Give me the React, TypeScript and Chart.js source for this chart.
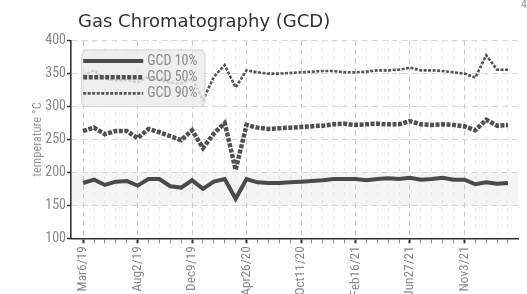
import React, { useEffect, useRef } from 'react';
import { Chart, registerables } from 'chart.js';

Chart.register(...registerables);

// ---- data ----
const tickLabels = ['Mar6/19', 'Aug2/19', 'Dec9/19', 'Apr26/20', 'Oct11/20', 'Feb16/21', 'Jun27/21', 'Nov3/21'];
const labelEvery = 5;
const seriesNames = ['GCD 10%', 'GCD 50%', 'GCD 90%'];
const gcd10 = [184, 189, 181, 186, 187, 180, 190, 190, 179, 177, 188, 175, 186, 190, 160, 190, 185, 184, 184, 185, 186, 187, 188, 190, 190, 190, 188, 190, 191, 190, 192, 189, 190, 192, 189, 189, 182, 185, 183, 184];
const gcd50 = [263, 268, 258, 263, 263, 252, 266, 261, 255, 249, 264, 237, 259, 275, 204, 272, 268, 266, 267, 268, 269, 270, 271, 273, 274, 272, 273, 274, 273, 273, 278, 273, 272, 273, 272, 270, 264, 280, 271, 272];
const gcd90 = [347, 355, 342, 340, 340, 337, 345, 340, 336, 335, 342, 310, 345, 363, 329, 355, 352, 350, 350, 351, 352, 353, 354, 354, 352, 352, 353, 355, 355, 356, 359, 355, 355, 354, 352, 350, 344, 378, 356, 356];
const yMin = 100;
const yMax = 400;
const yStep = 50;
const bandRange = [150, 200];
const titleText = 'Gas Chromatography (GCD)';
const yTitle = 'temperature °C';

const NARROW = "'Roboto Condensed', 'DejaVu Sans Condensed', sans-serif";

const toPoints = (arr: number[]) => arr.map((v, i) => ({ x: i, y: v }));

const decorPlugin = {
  id: 'decor',
  beforeDraw(chart: any) {
    const { ctx, chartArea, scales } = chart;
    const y = scales.y;
    const t = y.getPixelForValue(bandRange[1]);
    const b = y.getPixelForValue(bandRange[0]);
    ctx.save();
    ctx.fillStyle = '#f4f4f4';
    ctx.fillRect(chartArea.left, t, chartArea.right - chartArea.left, b - t);
    ctx.restore();
  },
  afterDatasetsDraw(chart: any) {
    const { ctx, chartArea } = chart;
    const bx = chartArea.left + 10.7;
    const by = chartArea.top + 9.3;
    const bw = 123.3;
    const bh = 56.7;
    ctx.save();
    ctx.beginPath();
    if (ctx.roundRect) ctx.roundRect(bx, by, bw, bh, 5);
    else ctx.rect(bx, by, bw, bh);
    ctx.fillStyle = 'rgba(236,236,236,0.82)';
    ctx.fill();
    ctx.strokeStyle = '#d2d2d2';
    ctx.lineWidth = 1;
    ctx.stroke();
    chart.data.datasets.forEach((ds: any, i: number) => {
      const yy = by + 11 + i * 16.2;
      ctx.save();
      ctx.strokeStyle = ds.borderColor;
      ctx.lineWidth = ds.borderWidth;
      ctx.setLineDash(ds.borderDash || []);
      ctx.beginPath();
      ctx.moveTo(bx + 1.5, yy);
      ctx.lineTo(bx + 61.5, yy);
      ctx.stroke();
      ctx.restore();
      ctx.fillStyle = '#8a8a8a';
      ctx.font = `14px ${NARROW}`;
      ctx.textBaseline = 'middle';
      ctx.textAlign = 'left';
      ctx.fillText(ds.label, bx + 65.6, yy + 0.5);
    });
    ctx.restore();
  },
  afterDraw(chart: any) {
    const { ctx, chartArea } = chart;
    ctx.save();
    ctx.fillStyle = '#333';
    ctx.font = "18px 'DejaVu Sans', Verdana, sans-serif";
    ctx.textBaseline = 'alphabetic';
    ctx.textAlign = 'left';
    ctx.fillText(titleText, chartArea.left + 7, 27);
    ctx.fillStyle = '#999';
    ctx.font = `12px ${NARROW}`;
    ctx.fillText('4', 521, 8);
    ctx.restore();
  },
};

export default function App() {
  const ref = useRef<HTMLCanvasElement | null>(null);

  useEffect(() => {
    if (!ref.current) return;
    const n = gcd10.length;
    const isMajor = (v: number) => Math.round(v) % labelEvery === 0;
    const chart = new Chart(ref.current, {
      type: 'line',
      data: {
        datasets: [
          {
            label: seriesNames[0],
            data: toPoints(gcd10),
            borderColor: '#4a4a4a',
            borderWidth: 4,
            pointRadius: 0,
            tension: 0,
          },
          {
            label: seriesNames[1],
            data: toPoints(gcd50),
            borderColor: '#505050',
            borderWidth: 4.5,
            borderDash: [4, 1.5],
            pointRadius: 0,
            tension: 0,
          },
          {
            label: seriesNames[2],
            data: toPoints(gcd90),
            borderColor: '#555555',
            borderWidth: 2.6,
            borderDash: [3, 1.5],
            pointRadius: 0,
            tension: 0,
          },
        ] as any,
      },
      options: {
        animation: false,
        responsive: false,
        layout: { padding: { left: 30, top: 40.7, right: 2, bottom: 0 } },
        plugins: {
          legend: { display: false },
          title: { display: false },
          tooltip: { enabled: false },
        },
        scales: {
          x: {
            type: 'linear',
            min: -1.112,
            max: n - 1 + 0.93,
            afterBuildTicks: (axis: any) => {
              axis.ticks = Array.from({ length: n }, (_, i) => ({ value: i }));
            },
            afterFit: (s: any) => {
              s.height = 294 - 238.3;
            },
            ticks: {
              autoSkip: false,
              maxRotation: 90,
              minRotation: 90,
              padding: 3,
              color: '#888',
              font: { family: NARROW, size: 13.3 },
              callback: (v: any) => {
                const i = Math.round(Number(v));
                return i % labelEvery === 0 ? tickLabels[i / labelEvery] ?? '' : '';
              },
            },
            grid: {
              color: (c: any) => (c.tick && isMajor(c.tick.value) ? '#c6c6c6' : '#dcdcdc'),
              lineWidth: 1,
              tickLength: 5,
              tickColor: (c: any) => (c.tick && isMajor(c.tick.value) ? '#333' : '#888'),
              tickWidth: (c: any) => (c.tick && isMajor(c.tick.value) ? 2 : 1),
            },
            border: {
              display: true,
              color: '#333',
              width: 1.6,
              dash: (c: any) => (c.tick && isMajor(c.tick.value) ? [5, 4] : [2, 6]),
            },
          } as any,
          y: {
            type: 'linear',
            min: yMin,
            max: yMax,
            afterFit: (s: any) => {
              s.width = 41;
            },
            ticks: {
              stepSize: yStep,
              padding: 1,
              color: '#888',
              font: { family: NARROW, size: 14 },
            },
            title: {
              display: true,
              text: yTitle,
              color: '#999',
              padding: 0,
              font: { family: NARROW, size: 12.5 },
            },
            grid: {
              color: '#d6d6d6',
              lineWidth: 1,
              tickLength: 4,
              tickColor: '#333',
              tickWidth: 1.5,
            },
            border: {
              display: true,
              color: '#333',
              width: 1.6,
              dash: [6, 4],
            },
          } as any,
        },
      },
      plugins: [decorPlugin],
    });
    return () => chart.destroy();
  }, []);

  return (
    <div style={{ position: 'absolute', left: 0, top: 0, width: 527, height: 294, background: '#fff' }}>
      <canvas ref={ref} width={527} height={294} style={{ width: 527, height: 294, display: 'block' }} />
    </div>
  );
}
